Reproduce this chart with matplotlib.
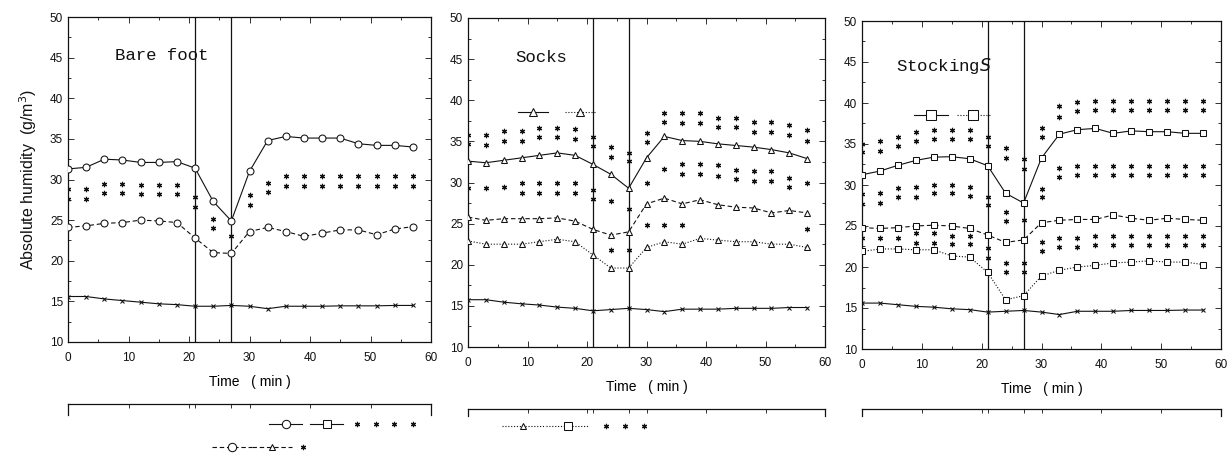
import numpy as np
import matplotlib
matplotlib.use("Agg")
import matplotlib.pyplot as plt
from matplotlib.lines import Line2D
from matplotlib.legend_handler import HandlerLine2D
from matplotlib.ticker import MultipleLocator

plt.rcParams['font.family'] = ['Liberation Sans', 'DejaVu Sans']

nan = np.nan

# sampling times (min)
time = [0, 3, 6, 9, 12, 15, 18, 21, 24, 27, 30, 33, 36, 39, 42, 45, 48, 51, 54, 57]
events = [21, 27]

# --- bare foot ---
bare_solid = [31.3, 31.5, 32.5, 32.4, 32.1, 32.1, 32.2, 31.4, 27.3, 24.9, 31.0, 34.8, 35.3,
              35.1, 35.1, 35.1, 34.4, 34.2, 34.2, 34.0]
bare_dashed = [24.1, 24.3, 24.6, 24.7, 25.0, 24.9, 24.7, 22.8, 21.0, 20.9, 23.6, 24.1, 23.6,
               23.0, 23.4, 23.8, 23.8, 23.2, 23.9, 24.2]
bare_base = [15.6, 15.6, 15.3, 15.1, 14.9, 14.7, 14.6, 14.4, 14.4, 14.5, 14.4, 14.1, 14.4,
             14.4, 14.4, 14.45, 14.45, 14.45, 14.5, 14.5]
bare_star_a = [28.8, 28.8, 29.4, 29.4, 29.3, 29.3, 29.3, 27.9, 25.2, nan, 28.1, 29.6, 30.4,
               30.4, 30.4, 30.4, 30.4, 30.4, 30.4, 30.4]
bare_star_b = [27.6, 27.6, 28.3, 28.3, 28.2, 28.2, 28.2, 26.6, 24.0, 23.1, 26.9, 28.5, 29.2,
               29.2, 29.2, 29.2, 29.2, 29.2, 29.2, 29.2]

# --- socks ---
socks_solid = [32.6, 32.4, 32.7, 33.0, 33.3, 33.6, 33.3, 32.2, 31.0, 29.3, 33.0, 35.6, 35.1,
               35.0, 34.7, 34.5, 34.3, 34.0, 33.6, 32.9]
socks_dashed = [25.8, 25.4, 25.6, 25.6, 25.6, 25.7, 25.3, 24.3, 23.6, 24.0, 27.4, 28.1, 27.4,
                27.9, 27.3, 27.0, 26.9, 26.3, 26.6, 26.3]
socks_dotted = [22.9, 22.5, 22.5, 22.5, 22.8, 23.1, 22.8, 21.2, 19.6, 19.6, 22.1, 22.8, 22.5,
                23.2, 23.0, 22.8, 22.8, 22.5, 22.5, 22.1]
socks_base = [15.75, 15.75, 15.45, 15.25, 15.1, 14.85, 14.7, 14.4, 14.55, 14.7, 14.55, 14.3,
              14.6, 14.6, 14.6, 14.7, 14.7, 14.7, 14.8, 14.8]
socks_star_a = [35.8, 35.8, 36.3, 36.3, 36.6, 36.6, 36.5, 35.55, 34.3, 33.6, 36.0, 38.4, 38.4,
                38.4, 37.9, 37.9, 37.4, 37.4, 37.0, 36.4]
socks_star_b = [34.7, 34.6, 35.1, 35.1, 35.5, 35.5, 35.3, 34.4, 33.1, 32.6, 34.9, 37.3, 37.2,
                37.2, 36.7, 36.7, 36.2, 36.2, 35.8, 35.1]
socks_star_c = [29.3, 29.3, 29.5, 29.9, 29.9, 29.9, 29.9, 29.1, 27.8, 26.75, 30.0, 31.7, 32.2,
                32.2, 32.1, 31.5, 31.4, 31.4, 30.6, 29.9]
socks_star_d = [nan, nan, nan, 28.7, 28.7, 28.7, 28.7, 28.0, nan, nan, nan, nan, 31.0,
                31.0, 30.8, 30.4, 30.2, 30.2, 29.4, nan]
socks_star_e = [nan, nan, nan, nan, nan, nan, nan, nan, 21.8, 21.8, 24.8, 24.8, 24.8,
                nan, nan, nan, nan, nan, nan, 24.3]

# --- stockings ---
stock_solid = [31.25, 31.7, 32.4, 33.0, 33.4, 33.45, 33.2, 32.35, 29.0, 27.8, 33.3, 36.2, 36.75,
               36.9, 36.3, 36.6, 36.5, 36.5, 36.3, 36.3]
stock_dashed = [24.8, 24.7, 24.8, 25.0, 25.1, 25.0, 24.7, 23.9, 23.0, 23.3, 25.4, 25.7, 25.8,
                25.8, 26.35, 25.95, 25.7, 25.95, 25.8, 25.7]
stock_dotted = [21.9, 22.2, 22.2, 22.1, 22.1, 21.35, 21.2, 19.35, 16.0, 16.5, 18.9, 19.6, 20.0,
                20.2, 20.5, 20.6, 20.75, 20.6, 20.6, 20.3]
stock_base = [15.6, 15.6, 15.4, 15.2, 15.1, 14.9, 14.8, 14.5, 14.6, 14.7, 14.5, 14.2, 14.6,
              14.6, 14.6, 14.7, 14.7, 14.7, 14.75, 14.75]
stock_star_a = [35.0, 35.4, 35.8, 36.5, 36.75, 36.75, 36.75, 35.8, 34.5, 33.2, 37.0, 39.6, 40.1,
                40.2, 40.2, 40.2, 40.2, 40.2, 40.2, 40.2]
stock_star_b = [34.0, 34.2, 34.7, 35.4, 35.6, 35.6, 35.6, 34.7, 33.3, 31.9, 35.9, 38.3, 39.0,
                39.1, 39.1, 39.1, 39.1, 39.1, 39.1, 39.1]
stock_star_c = [28.9, 29.0, 29.6, 29.7, 30.0, 30.0, 29.8, 28.5, 26.7, 25.7, 29.5, 32.1, 32.3,
                32.3, 32.3, 32.3, 32.3, 32.3, 32.3, 32.3]
stock_star_d = [27.7, 27.8, 28.5, 28.55, 29.0, 29.0, 28.7, 27.5, 25.6, nan, 28.5, 31.0, 31.2,
                31.2, 31.2, 31.2, 31.2, 31.2, 31.2, 31.2]
stock_star_e = [23.5, 23.5, 23.5, 24.1, 24.1, 23.8, 23.8, 22.3, 20.5, 20.5, 23.0, 23.5, 23.5,
                23.8, 23.8, 23.8, 23.8, 23.8, 23.8, 23.8]
stock_star_f = [nan, nan, nan, 22.9, 22.9, 22.8, 22.8, 21.1, 19.4, 19.4, 21.9, 22.4, 22.4,
                22.7, 22.7, 22.7, 22.7, 22.7, 22.7, 22.7]

INK = '#111111'
STAR = (6, 2, 0)
STAR_MS, STAR_MEW = 3.8, 0.85
DASHED = (0, (4, 2.5))
DOTTED = (0, (1, 1.6))


def series(ax, y, marker, ls, ms=5):
    ax.plot(time, y, color=INK, lw=0.8, ls=ls, marker=marker, ms=ms,
            mfc='white', mec=INK, mew=0.75, zorder=3)


def stars(ax, rows):
    for row in rows:
        ax.plot(time, row, ls='none', marker=STAR, ms=STAR_MS, mew=STAR_MEW,
                color=INK, zorder=4)


def frame(ax):
    ax.set_xlim(0, 60)
    ax.set_ylim(10, 50)
    ax.xaxis.set_major_locator(MultipleLocator(10))
    ax.xaxis.set_minor_locator(MultipleLocator(5))
    ax.yaxis.set_major_locator(MultipleLocator(5))
    ax.yaxis.set_minor_locator(MultipleLocator(2.5))
    ax.tick_params(which='both', direction='in', top=True, right=True, width=0.6,
                   colors=INK, labelsize=8.5)
    ax.tick_params(which='major', length=4)
    ax.tick_params(which='minor', length=2)
    ax.tick_params(axis='x', pad=7)
    ax.tick_params(axis='y', pad=3.5)
    for s in ax.spines.values():
        s.set_linewidth(0.9)
        s.set_color(INK)
    for t in events:
        ax.axvline(t, color=INK, lw=0.9, zorder=2)
    ax.plot(time, ax_base[ax], color=INK, lw=0.8, marker='x', ms=3.0, mew=0.75, zorder=3)
    ax.set_xlabel('Time   ( min )', fontsize=10, labelpad=8)


def strip(rect, ticks):
    sa = fig.add_axes(rect)
    sa.set_xlim(0, 60)
    sa.set_ylim(0, 1)
    sa.spines['bottom'].set_visible(False)
    for s in sa.spines.values():
        s.set_linewidth(0.9)
        s.set_color(INK)
    sa.set_xticks(ticks)
    sa.set_yticks([])
    sa.tick_params(axis='x', direction='in', top=True, bottom=False, labelbottom=False,
                   length=3, width=0.6, colors=INK)
    return sa


def key(marker, ms, ls='-', mew=0.75):
    return Line2D([], [], color=INK, lw=0.8, ls=ls, marker=marker, ms=ms,
                  mfc='white', mec=INK, mew=mew)


W, H = 1229, 455
fig = plt.figure(figsize=(W / 100, H / 100), dpi=100)


def rect(x0, x1, ytop, ybot):
    return [x0 / W, 1 - ybot / H, (x1 - x0) / W, (ybot - ytop) / H]


ax1 = fig.add_axes(rect(68, 431, 17, 342))
ax2 = fig.add_axes(rect(468, 825, 18, 347))
ax3 = fig.add_axes(rect(862, 1221, 21, 349))
ax_base = {ax1: bare_base, ax2: socks_base, ax3: stock_base}

series(ax1, bare_solid, 'o', '-')
series(ax1, bare_dashed, 'o', DASHED)
stars(ax1, [bare_star_a, bare_star_b])

series(ax2, socks_solid, '^', '-')
series(ax2, socks_dashed, '^', DASHED)
series(ax2, socks_dotted, '^', DOTTED)
stars(ax2, [socks_star_a, socks_star_b, socks_star_c, socks_star_d, socks_star_e])

series(ax3, stock_solid, 's', '-', ms=4.8)
series(ax3, stock_dashed, 's', DASHED, ms=4.8)
series(ax3, stock_dotted, 's', DOTTED, ms=4.8)
stars(ax3, [stock_star_a, stock_star_b, stock_star_c, stock_star_d, stock_star_e, stock_star_f])

for ax in (ax1, ax2, ax3):
    frame(ax)

mono = dict(family='Liberation Mono', fontsize=12.5, color=INK, va='center', ha='left')
ax1.text(0.13, 0.88, 'Bare foot', transform=ax1.transAxes, **mono)
ax2.text(0.132, 0.88, 'Socks', transform=ax2.transAxes, **mono)
ax3.text(0.096, 0.862, r'Stocking$S$', transform=ax3.transAxes, **mono)

fig.text(28 / W, 1 - 179 / H, r'Absolute humidity  (g/m$^3$)', rotation=90,
         ha='center', va='center', fontsize=11.5, color=INK)

# keys inside the socks / stockings panels
lg = dict(frameon=False, borderpad=0, borderaxespad=0, handletextpad=0, fontsize=8,
          loc='center left')
ax2.legend(handles=[key('^', 6), key('^', 6, DOTTED)],
           labels=['', ''], ncol=2, handlelength=2.7, columnspacing=1.5,
           bbox_to_anchor=(0.14, 0.7125), **lg)
ax3.legend(handles=[key('s', 7), key('s', 7, DOTTED)],
           labels=['', ''], ncol=2, handlelength=3.0, columnspacing=0.8,
           bbox_to_anchor=(0.146, 0.71), **lg)

# truncated frames along the bottom
strip(rect(68, 431, 404, 415), [10, 20, 21, 27, 30, 40, 50])
strip(rect(468, 825, 409, 416), [10, 20, 21, 27, 30, 40, 50])
strip(rect(862, 1221, 409, 416), [10, 20, 21, 27, 30, 40, 50])

# keys under the frames
star4 = key(STAR, STAR_MS, 'none', STAR_MEW)
star1 = key(STAR, STAR_MS, 'none', STAR_MEW)
star3 = key(STAR, STAR_MS, 'none', STAR_MEW)

fig.legend(handles=[key('o', 6), key('s', 6)],
           labels=['', ''], ncol=2, handlelength=3.0, columnspacing=0.7,
           bbox_to_anchor=(269 / W, 1 - 425 / H), **lg)
fig.legend(handles=[star4], labels=[''], handlelength=5.6,
           handler_map={star4: HandlerLine2D(numpoints=4)},
           bbox_to_anchor=(354 / W, 1 - 425 / H), **lg)
fig.legend(handles=[key('o', 6, DASHED), key('^', 5, DASHED)],
           labels=['', ''], ncol=2, handlelength=3.6, columnspacing=0,
           bbox_to_anchor=(212 / W, 1 - 448 / H), **lg)
fig.legend(handles=[star1], labels=[''], handlelength=1.0,
           bbox_to_anchor=(297 / W, 1 - 448 / H), **lg)
fig.legend(handles=[key('^', 5, DOTTED), key('s', 6, DOTTED)],
           labels=['', ''], ncol=2, handlelength=3.8, columnspacing=0.2,
           bbox_to_anchor=(502 / W, 1 - 427 / H), **lg)
fig.legend(handles=[star3], labels=[''], handlelength=4.0,
           handler_map={star3: HandlerLine2D(numpoints=3)},
           bbox_to_anchor=(603 / W, 1 - 427 / H), **lg)

fig.savefig('out.png', dpi=100)
